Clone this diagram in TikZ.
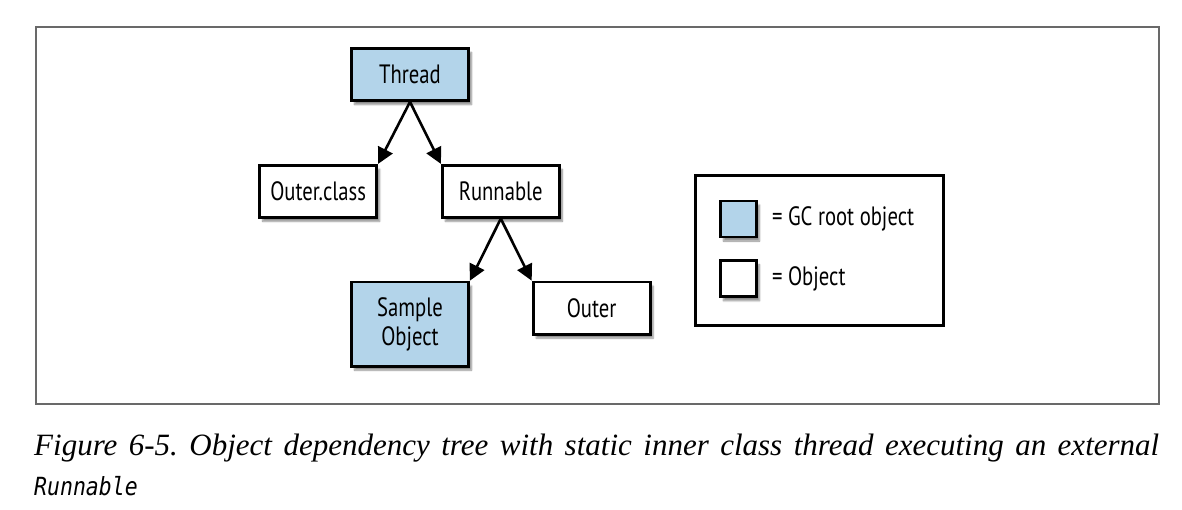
\documentclass[tikz,border=0pt]{standalone}
\usepackage{fontspec}
\usetikzlibrary{arrows.meta,shadows.blur,positioning}
\newfontfamily\boxfont[FakeStretch=0.78]{PT Sans}
\newfontfamily\capfont{Liberation Serif}
\newfontfamily\capmono[FakeStretch=0.86]{DejaVu Sans Mono}
\definecolor{rootblue}{RGB}{179,212,234}
\definecolor{framegray}{RGB}{105,105,105}
\tikzstyle{heapobj}=[rectangle,draw=black,line width=2.8pt,fill=white,
  minimum width=117pt,minimum height=52pt,inner sep=3pt,align=center,
  font=\boxfont\fontsize{26.5}{29}\selectfont,
  blur shadow={shadow xshift=3pt,shadow yshift=-4pt,shadow blur steps=6,shadow opacity=45}]
\tikzstyle{gcroot}=[heapobj,fill=rootblue]
\tikzstyle{keytext}=[inner sep=0pt,font=\boxfont\fontsize{26.5}{29}\selectfont]
\frenchspacing

\begin{document}
\begin{tikzpicture}[x=1pt,y=-1pt,>={Triangle[length=16pt,width=16pt]}]
    \useasboundingbox (0,0) rectangle (1182,510);
    \draw[framegray,line width=1.5pt] (36,27) rectangle (1159,404);

    \node[gcroot] (thread) at (410,74.5) {Thread};
    \node[heapobj] (outerclass) [below left=62pt and -28pt of thread] {Outer.class};
    \node[heapobj] (runnable) [below right=62pt and -29pt of thread] {Runnable};
    \node[gcroot,minimum height=84pt] (sample) [below left=62pt and -29pt of runnable] {Sample\\Object};
    \node[heapobj] (outer) [below right=62pt and -29pt of runnable] {Outer};

    \draw[->,line width=2.6pt] (thread.south) -- (outerclass.north east);
    \draw[->,line width=2.6pt] (thread.south) -- (runnable.north west);
    \draw[->,line width=2.6pt] (runnable.south) -- (sample.north east);
    \draw[->,line width=2.6pt] (runnable.south) -- (outer.north west);

    % legend
    \node[draw=black,line width=2.5pt,minimum width=248pt,minimum height=150pt] (legend) at (819.5,250.5) {};
    \node[gcroot,minimum width=36pt,minimum height=36pt] (rootkey) at (738.5,219) {};
    \node[heapobj,minimum width=36pt,minimum height=36pt] (objkey) [below=21pt of rootkey] {};
    \node[keytext] (rootlabel) [right=14pt of rootkey] {= GC root object};
    \node[keytext] (objlabel) [right=14pt of objkey] {= Object};

    % caption
    \node[anchor=base west,inner sep=0pt,font=\capfont\itshape\fontsize{31}{36}\selectfont] (caption) at (34,455)
      {\makebox[1125pt][s]{Figure 6-5. Object dependency tree with static inner class thread executing an external}};
    \node[anchor=base west,inner sep=0pt,font=\capmono\itshape\fontsize{25}{28}\selectfont] (capcode) at (34,495) {Runnable};
\end{tikzpicture}
\end{document}
